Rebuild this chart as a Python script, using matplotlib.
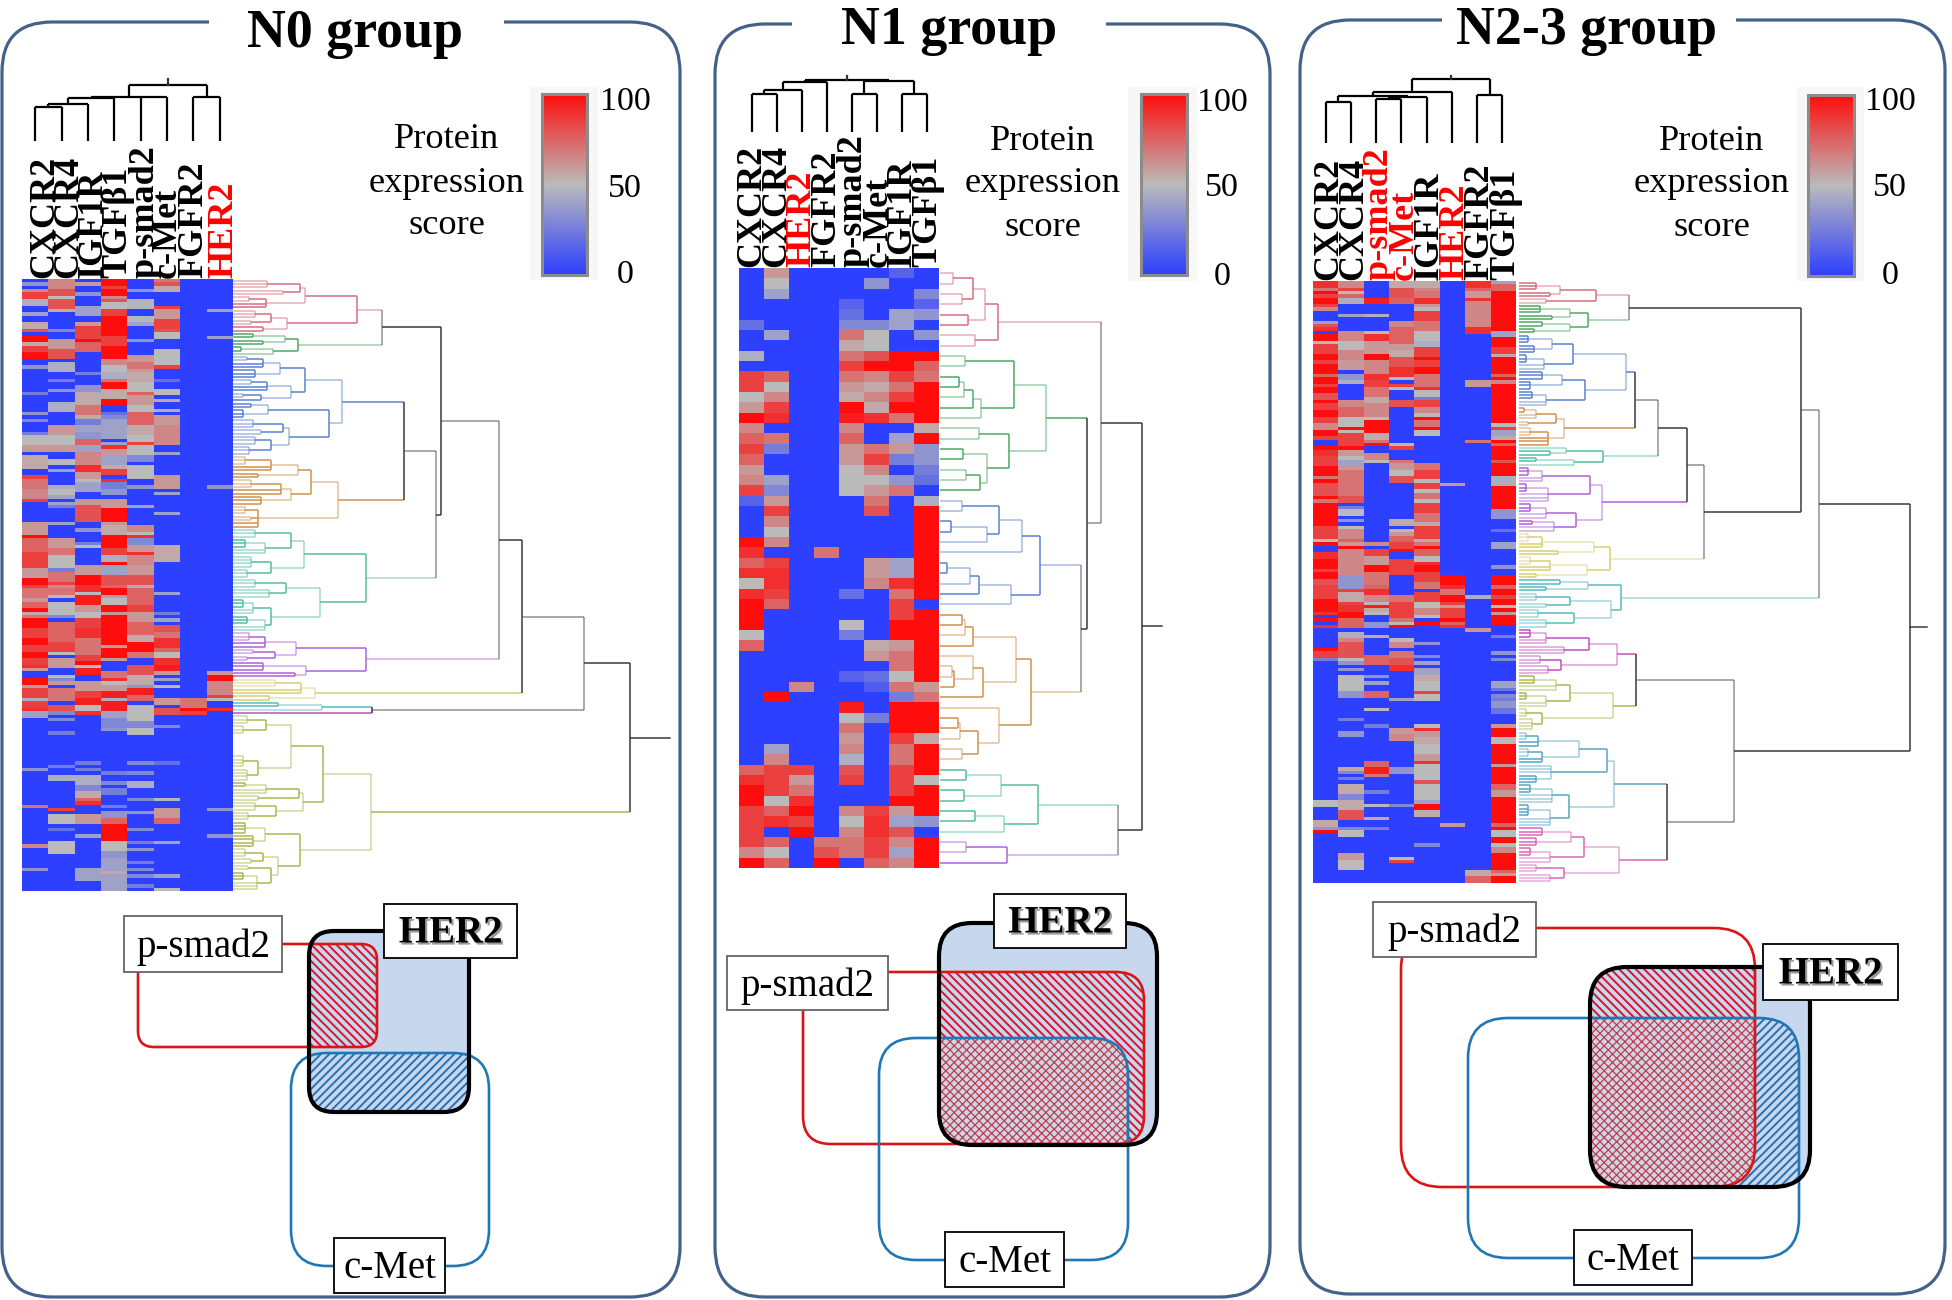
import numpy as np
import matplotlib
matplotlib.use('Agg')
import matplotlib.pyplot as plt
import matplotlib.patches as mpatches
import matplotlib.patheffects as pe
from itertools import count
from matplotlib.colors import LinearSegmentedColormap

W, H = 1952, 1300
plt.rcParams['font.family'] = ['Liberation Serif', 'DejaVu Serif']
plt.rcParams['hatch.linewidth'] = 1.4

# ---------- heatmap scores, (score, number of rows) read top to bottom ----------
N0_ROWS = 184
N0_LABELS = ['CXCR2', 'CXCR4', 'IGF1R', 'TGFβ1', 'p-smad2', 'c-Met', 'FGFR2', 'HER2']
N0_RED = ['HER2']
N0_CXCR2 = [(0,1),(35,1),(0,1),(65,1),(85,2),(45,2),(0,2),(40,1),(0,2),(55,2),(80,1),(0,1),(100,2),(55,1),(85,2),(100,2),(0,2),(35,1),(0,7),(25,1),(0,5),(35,1),(0,1),(30,1),(0,3),(25,1),(50,3),(60,2),(0,1),(55,4),(0,2),(85,1),(70,3),(65,3),(85,1),(0,6),(60,4),(100,1),(75,4),(85,5),(60,3),(100,2),
            (85,1),(70,3),(60,1),(75,2),(100,1),(55,1),(70,1),(100,3),(85,3),(100,2),(85,2),(100,2),(85,2),(90,1),(60,1),(0,2),(100,2),(60,1),(85,3),(45,1),(85,2),(90,1),(40,2),(0,15),(35,1),(0,10),(70,1),(0,11),(65,1),(0,6),(35,1),(0,6)]
N0_CXCR4 = [(65,3),(80,2),(50,1),(80,3),(55,1),(0,5),(30,1),(0,2),(60,3),(80,3),(0,1),(45,3),(0,2),(25,1),(0,2),(35,1),(0,3),(45,3),(0,4),(60,3),(50,3),(60,2),(0,2),(50,2),(0,1),(40,1),(0,4),(45,1),(50,2),(40,1),(0,1),(40,1),(25,1),(0,4),(40,1),(0,4),(60,3),(70,2),(50,4),(25,1),(70,3),(85,1),
            (65,1),(70,2),(50,1),(0,1),(50,4),(30,1),(0,1),(75,6),(85,3),(50,1),(0,1),(60,3),(0,2),(50,1),(30,1),(60,1),(0,1),(70,4),(0,1),(80,2),(30,1),(0,1),(30,1),(0,3),(25,1),(0,9),(25,1),(0,2),(45,2),(0,8),(85,1),(0,1),(50,3),(0,1),(20,1),(0,3),(50,4),(0,11)]
N0_IGF1R = [(0,1),(60,1),(0,2),(35,1),(0,3),(40,3),(0,2),(60,1),(85,4),(100,1),(75,3),(0,6),(25,1),(0,3),(35,2),(55,4),(70,3),(55,1),(25,2),(40,2),(35,2),(75,2),(40,2),(65,4),(90,2),(60,2),(50,1),(40,3),(0,2),(60,2),(80,5),(0,2),(35,1),(0,3),(25,1),(50,1),(0,5),(60,3),(100,3),
            (90,2),(50,1),(95,3),(60,2),(50,2),(85,3),(90,3),(70,5),(85,2),(100,1),(50,1),(95,2),(0,2),(60,3),(85,2),(95,2),(50,2),(90,1),(0,14),(25,1),(0,1),(25,1),(0,1),(45,3),(30,2),(55,2),(75,1),(90,1),(0,3),(60,3),(0,3),(40,1),(0,9),(40,4)]
N0_TGFB1 = [(100,2),(85,1),(100,2),(65,1),(80,1),(50,2),(85,2),(100,6),(85,3),(100,4),(65,2),(50,2),(45,2),(70,1),(100,2),(55,3),(100,2),(0,2),(20,1),(30,1),(40,6),(0,1),(40,1),(90,1),(60,2),(40,3),(55,1),(85,2),(0,1),(90,1),(25,2),(35,2),(0,1),(60,3),(100,4),(60,1),(55,3),(100,4),(85,2),(45,2),(100,1),(40,3),(80,3),
            (75,1),(100,2),(60,1),(50,2),(100,2),(60,1),(100,9),(60,1),(100,3),(60,1),(0,3),(70,2),(90,1),(50,1),(60,2),(95,2),(45,1),(95,3),(40,2),(30,3),(35,1),(0,12),(25,1),(0,2),(30,1),(0,1),(25,2),(0,3),(25,1),(0,1),(35,2),(75,2),(100,5),(50,3),(35,2),(40,4),(55,1),(40,5)]
N0_PSMAD2 = [(0,3),(35,1),(0,2),(48,3),(0,2),(48,2),(40,1),(0,4),(35,1),(0,4),(60,2),(70,2),(60,1),(55,3),(50,3),(75,1),(60,3),(50,2),(75,4),(55,3),(50,2),(85,1),(50,3),(30,2),(0,1),(50,4),(0,2),(35,1),(0,5),(40,1),(0,5),(65,2),(50,1),(90,1),(30,2),(60,2),(90,1),(65,3),(60,3),(80,3),
             (55,1),(75,5),(85,2),(60,3),(75,4),(55,2),(100,3),(70,2),(0,2),(80,3),(55,3),(35,1),(95,2),(75,2),(0,1),(50,5),(30,2),(50,2),(0,8),(30,1),(0,2),(30,1),(0,2),(45,2),(0,3),(30,1),(0,3),(35,1),(0,4),(30,1),(0,3),(25,1),(0,1),(35,1),(0,3),(25,1),(0,1),(30,1),(0,1),(30,1),(0,2),(25,1)]
N0_CMET = [(70,1),(80,1),(55,2),(0,4),(85,1),(60,3),(85,3),(80,1),(50,2),(0,3),(50,5),(85,1),(0,3),(20,1),(0,2),(50,2),(0,1),(55,1),(0,2),(45,1),(0,1),(60,3),(65,6),(0,2),(40,1),(0,6),(60,4),(0,1),(40,1),(0,5),(40,1),(0,9),(55,5),(0,7),
           (0,2),(40,1),(0,5),(25,1),(0,1),(40,1),(0,1),(80,2),(70,2),(90,3),(75,1),(50,2),(90,2),(95,2),(60,1),(0,1),(40,1),(0,1),(50,1),(0,3),(60,2),(0,1),(80,2),(0,3),(30,1),(0,10),(20,1),(0,10),(48,1),(0,2),(60,3),(75,2),(0,5),(40,1),(0,9),(40,1),(0,3),(50,1)]
N0_FGFR2 = [(0,92),(0,34),(70,3),(100,1),(85,1),(0,53)]
N0_HER2 = [(0,9),(40,1),(0,7),(40,1),(0,44),(35,1),(0,29),(0,26),(60,1),(100,2),(65,4),(85,1),(50,1),(0,2),(90,1),(0,29),(35,1),(0,7),(35,1),(0,16)]

N1_ROWS = 58
N1_LABELS = ['CXCR2', 'CXCR4', 'HER2', 'FGFR2', 'p-smad2', 'c-Met', 'IGF1R', 'TGFβ1']
N1_RED = ['HER2']
N1_CXCR2 = [0,0,0,0,0,20,0,0,45,0, 85,85,50,60,100,65,75,85,75,60, 65,85,15,0,0,0,100,90,75,90, 50,90,100,100,100,50,75,0,0,0, 0,0,0,0,0,0,0,0, 75,90,100,100,85,85,85,85,65,100]
N1_CXCR4 = [60,50,40,0,0,0,40,0,0,0, 75,50,65,85,90,0,70,25,0,0, 40,30,60,85,65,50,65,0,85,90, 90,85,75,0,0,0,0,0,0,0, 0,100,0,0,0,0,40,65,85,85, 85,50,75,90,0,75,50,75]
N1_HER2 = [0]*40 + [65] + [0]*7 + [85,60,70,90,100,85,100,0,0,0]
N1_FGFR2 = [0]*27 + [70] + [0]*27 + [70,80,100]
N1_PSMAD2 = [0,0,0,15,20,30,70,55,70,85, 70,60,55,100,95,65,75,60,60,50, 50,50,0,0,0,0,0,0,0,0, 0,20,0,0,50,25,0,0,0,15, 0,0,95,50,70,60,65,45,80,85, 0,0,65,50,65,70,70,0]
N1_CMET = [0,35,0,0,0,30,50,50,80,100, 65,55,65,55,90,0,0,70,85,65, 50,60,70,80,0,0,0,0,60,60, 65,0,0,0,0,0,55,60,0,20, 12,0,0,25,0,0,0,0,0,0, 0,0,85,90,90,85,85,75]
N1_IGF1R = [15,0,0,0,40,40,0,0,100,100, 85,70,85,100,70,0,40,60,25,0, 35,70,0,0,0,0,0,0,40,40, 90,70,85,85,100,100,60,70,70,50, 70,25,100,100,100,85,70,70,85,85, 85,100,60,40,80,65,40,65]
N1_TGFB1 = [0,0,30,15,35,0,35,0,100,75, 70,100,100,100,100,55,100,35,35,25, 20,0,45,100,100,100,100,100,100,100, 100,100,0,100,100,100,100,100,100,100, 60,70,100,100,100,55,100,100,100,50, 100,100,100,35,0,100,100,100]

N2_ROWS = 182
N2_LABELS = ['CXCR2', 'CXCR4', 'p-smad2', 'c-Met', 'IGF1R', 'HER2', 'FGFR2', 'TGFβ1']
N2_RED = ['p-smad2', 'c-Met', 'HER2']
N2_CXCR2 = [(90,2),(70,1),(100,1),(85,1),(100,2),(85,1),(65,1),(0,3),(40,1),(80,1),(90,1),(0,1),(100,2),(50,1),(85,3),(100,2),(85,1),(100,3),(75,1),(100,2),(85,1),(100,2),(80,2),(100,1),(85,2),(100,2),(85,2),(65,2),(100,2),(85,1),(0,2),(100,1),(90,2),(85,3),(100,3),(70,1),(100,1),(80,4),(100,1),(70,1),(100,7),(85,4),(50,1),(100,1),(0,2),(90,2),(100,3),(85,1),(100,2),(80,2),
            (85,4),(100,4),(90,1),(0,1),(100,1),(0,1),(90,1),(0,6),(100,1),(85,2),(25,1),(0,42),(50,2),(0,4),(55,2),(35,1),(100,1),(0,15)]
N2_CXCR4 = [(65,2),(85,1),(50,1),(75,1),(45,1),(55,1),(0,3),(40,1),(0,4),(65,3),(50,3),(65,3),(60,3),(0,1),(35,2),(45,1),(0,5),(65,2),(75,3),(50,3),(100,1),(50,1),(85,4),(100,1),(60,2),(50,1),(40,2),(60,1),(70,8),(80,2),(0,1),(25,1),(50,2),(0,1),(35,1),(0,1),(50,1),(65,3),(75,1),(60,1),(100,1),(65,8),(35,3),
            (35,1),(85,1),(55,3),(85,1),(90,2),(100,2),(75,3),(0,1),(45,2),(65,1),(80,5),(50,1),(35,1),(0,1),(35,1),(0,1),(50,5),(35,2),(0,6),(25,1),(0,3),(35,2),(0,9),(55,1),(30,1),(0,1),(25,1),(0,1),(55,3),(30,2),(55,3),(80,3),(0,2),(30,1),(50,2),(0,5),(60,2),(50,3),(0,5)]
N2_PSMAD2 = [(0,5),(95,2),(0,3),(45,1),(0,4),(50,1),(90,2),(60,4),(100,2),(65,4),(90,2),(85,2),(70,3),(55,2),(65,4),(50,1),(100,4),(55,2),(70,1),(100,1),(0,2),(65,2),(50,1),(0,24),(65,1),(0,1),(85,2),(60,3),(100,2),(70,4),
             (75,1),(90,2),(65,2),(50,1),(95,1),(55,1),(50,1),(0,2),(35,2),(0,2),(55,1),(0,5),(75,3),(0,3),(35,1),(0,1),(40,1),(0,2),(75,2),(0,3),(50,1),(0,4),(25,1),(0,10),(75,2),(95,2),(70,1),(0,4),(25,1),(0,3),(50,1),(0,3),(55,1),(0,2),(25,1),(0,16)]
N2_CMET = [(55,2),(80,3),(75,2),(0,5),(65,2),(75,5),(60,2),(55,2),(80,3),(90,3),(50,1),(0,1),(85,1),(50,1),(0,3),(80,2),(0,11),(50,1),(85,1),(0,3),(70,1),(60,2),(50,2),(80,2),(0,11),(55,2),(0,1),(50,1),(60,1),(75,2),(85,2),(100,1),(0,2),(85,5),(0,3),
           (0,3),(70,2),(85,5),(70,1),(50,1),(100,1),(0,3),(50,1),(65,2),(0,1),(70,2),(80,2),(90,2),(0,8),(40,1),(0,8),(60,2),(65,2),(0,8),(35,2),(0,9),(30,1),(0,15),(50,1),(85,1),(0,6)]
N2_IGF1R = [(55,2),(65,1),(70,2),(90,2),(60,1),(50,1),(85,3),(70,3),(50,3),(45,2),(85,3),(100,1),(85,2),(100,2),(70,4),(90,1),(50,2),(25,1),(85,2),(65,2),(50,1),(100,1),(70,2),(100,1),(50,2),(0,8),(70,2),(85,3),(50,1),(85,2),(50,1),(70,2),(50,1),(85,3),(70,3),(55,1),(85,4),(55,1),(70,1),(100,1),(75,2),(50,2),(90,1),(100,2),(85,3),
            (70,2),(0,1),(85,3),(50,2),(65,2),(50,1),(0,1),(100,1),(0,5),(35,1),(0,3),(30,1),(0,1),(40,1),(0,1),(40,2),(55,2),(50,3),(85,1),(50,2),(0,7),(50,1),(90,1),(60,2),(55,2),(50,3),(60,2),(90,1),(50,5),(80,1),(50,5),(40,1),(100,2),(55,2),(0,8),(30,1),(0,10)]
N2_HER2 = [(0,61),(60,1),(0,27),(100,3),(90,1),(70,2),(100,2),(85,1),(60,1),(85,3),(100,1),(75,1),(90,1),(0,59),(60,1),(0,17)]
N2_FGFR2 = [(90,2),(75,1),(60,2),(90,1),(65,8),(90,2),(0,14),(60,2),(0,16),(70,1),(0,43),(0,3),(45,1),(0,9),(60,1),(0,72),(55,2),(75,2)]
N2_TGFB1 = [(40,1),(75,2),(100,12),(40,2),(100,3),(85,2),(55,1),(100,5),(75,1),(100,1),(65,1),(100,12),(50,1),(85,1),(40,2),(55,1),(100,1),(75,1),(100,4),(80,1),(100,4),(45,3),(100,7),(35,3),(0,3),(20,1),(0,3),(40,2),(0,5),(35,1),(0,2),(100,3),
            (75,1),(100,2),(85,1),(100,2),(50,1),(100,1),(60,1),(100,3),(0,3),(25,1),(0,4),(35,1),(0,1),(30,1),(0,6),(40,2),(22,1),(0,1),(30,1),(25,1),(35,2),(22,2),(0,3),(60,1),(100,3),(50,2),(100,6),(60,1),(100,5),(75,2),(60,2),(100,8),(75,1),(100,1),(50,2),(100,2),(50,1),(65,2),(100,5),(75,1),(60,1),(100,2)]

# ---------- dendrograms: (height, child, ...), an int child is that many leaves, a negative int skips rows ----------
N0_TREES = {
    'pink': (124, (72, (67, (34, 3), (50, 2)), (33, (16, 2), 2)), (54, (38, (22, 3), (18, 2)), (30, 2))),
    'green': (65, (52, (20, 2), (30, 2)), (40, (8, 2), 1)),
    'blue': (109, (72, (47, (30, (14, 2), 2), (22, 3)), (58, (34, (18, 2), 2), (28, (10, 2), 1))),
             (96, (35, (18, 2), (10, 3)), (56, (50, (20, 3), (28, 2)), (38, (22, 3), (16, 3))))),
    'orange': (105, (78, (65, (38, (12, 3), 2), (25, 2)), (58, (48, (18, 3), 2), (28, 3))), (25, (12, 3), (18, 2), 2)),
    'teal': (133, (71, (58, (22, 3), (32, (12, 3), 2)), (38, (18, 4), (14, 3))),
             (87, (53, (22, 3), (36, 3)), (38, (20, (10, 3), 2), (32, (14, 3), 2)))),
    'purple': (133, (63, (32, (16, 3), 2), (42, (20, 2), (14, 2))), (73, (30, 3), (62, 2))),
    'yellow': (82, (68, (42, 3), 2), (36, 2)),
    'cyan': (89, (45, 2), 1),
    'magenta': 1,
    'olive': (138, (90, (58, (33, (14, 3), (10, 3)), -6, (25, (10, 4), (14, 4))),
                    (70, (66, (33, (12, 2), 2), (25, 2)), (43, (22, 3), (15, 3)))),
              (67, (32, (12, 4), (20, 4)), (45, (30, (12, 3), (18, 2)), (38, (15, 2), (24, (10, 3), 3))))),
}
N0_TOP = (397, (351, (289, (266, (208, (149, 'pink', 'green'), (203, (171, 'blue', 'orange'), 'teal')), 'purple'), 'yellow'),
                (139, 'cyan', 'magenta')), 'olive')
N0_STEM = 437
N0_COL_TREE = (56, (44, (43, (37, (34, 1, 1), 1), 1), 1, 1), (44, 1, 1))
N0_COL_STEM = 62

N1_TREES = {
    'pink': (58, (45, (33, (13, 1, 1), (22, 1, 1)), (28, 1, 1)), (35, 1, 1)),
    'green': (106, (74, (25, 1, 1), (41, (33, (24, (19, 1, 1), 1), 1), 1)),
              (69, (39, 1, 1), (47, (23, 1, 1), (40, (26, 1, 1), 1)))),
    'blue': (100, (82, (59, (22, 1, 1), (47, (11, 1, 1), 1)), 1), (71, (39, (30, (7, 1, 1), 1), 1), 1)),
    'orange': (91, (76, (33, (25, (22, 1, 1), 1), 1), (43, (33, 1, (14, (12, 1, 1), 1)), 1)),
                (59, 1, (38, (20, (18, 1, 1), 1), (22, 1, 1)))),
    'teal': (98, (61, (26, 1, 1), (24, 1, 1)), (64, (35, 1, 1), 1)),
    'purple': (67, (26, 1, 1), 1),
}
N1_TOP = (202, (161, 'pink', (147, 'green', (141, 'blue', 'orange'))), (178, 'teal', 'purple'))
N1_STEM = 222
N1_COL_TREE = (52, (50, (42, (38, 1, 1), 1), 1), (51, (38, 1, 1), (38, 1, 1)))
N1_COL_STEM = 56

N2_TREES = {
    'pink': (80, (44, (20, 3), (34, 2)), (30, 2)),
    'green': (72, (54, (24, 3), (36, 2)), (54, (26, 2), (18, 2))),
    'blue': (110, (57, (36, (12, 3), (18, 3)), (28, (10, 3), 2)), (69, (46, (26, 3), (14, 3)), (30, (16, 3), 2))),
    'orange': (48, (40, (20, (8, 2), 2), (12, 2)), (32, (14, 3), 3)),
    'teal': (87, (50, 1, (34, 2)), (58, (20, 2), 1)),
    'purple': (86, (74, (26, (12, 3), 2), (32, (10, 3), 3)), (60, (30, (14, 3), 2), (38, (16, 2), 2))),
    'yellow': (94, (78, (26, (12, 3), 2), (42, 2)), (71, (34, (14, 3), 2), (20, 2))),
    'cyan': (105, (72, (44, 2), (30, 2)), (95, (54, (20, 3), (30, 2)), (58, (22, 3), (30, 3)))),
    'magenta': (101, (73, (30, (14, 3), 2), (48, 3)), (45, (24, 3), (32, 3))),
    'olive': (97, (54, (40, (18, 3), 2), (30, (10, 3), 2)), (26, (10, 3), (16, 4))),
    'sky': (98, (91, (63, (22, (10, 3), 2), (26, (12, 3), 2)), (35, 3, (20, 3))), (53, (36, (14, 3), 3), (34, (12, 4), 3))),
    'orchid': (103, (68, (55, (26, 3), (20, 3)), (34, (14, 3), 2)), (48, (20, 3), (34, 3))),
}
N2_TOP = (394, (303, (285, (113, 'pink', 'green'),
                      (188, (171, (142, (119, 'blue', 'orange'), 'teal'), 'purple'), 'yellow')), 'cyan'),
          (218, (120, 'magenta', 'olive'), (151, 'sky', 'orchid')))
N2_STEM = 411
N2_COL_TREE = (64, (51, (47, (41, 1, 1), (46, (44, 1, 1), 1)), 1), (48, 1, 1))
N2_COL_STEM = 67

# ---------- colours ----------
CMAP = LinearSegmentedColormap.from_list('score', ['#2d3fff', '#bbbbbb', '#ff0d0d'])
CLUSTER_COLORS = {
    'pink': '#d4707f', 'green': '#4fa866', 'blue': '#5b83cf', 'orange': '#d0914f', 'teal': '#55bfa0',
    'purple': '#ad62d8', 'yellow': '#d9cf72', 'cyan': '#55bcc0', 'magenta': '#c04fc0', 'olive': '#aeb650',
    'sky': '#58a6c6', 'orchid': '#d868be',
}
FRAME_COLOR = '#44618c'
VENN_FILL = '#c6d7ee'
RED = '#dc1414'
BLUE = '#1f78b4'

fig = plt.figure(figsize=(W / 100, H / 100), dpi=100)
canvas = fig.add_axes([0, 0, 1, 1], zorder=0)
canvas.set_xlim(0, W)
canvas.set_ylim(H, 0)
canvas.axis('off')


def px_axes(x0, y0, x1, y1):
    ax = fig.add_axes([x0 / W, 1 - y1 / H, (x1 - x0) / W, (y1 - y0) / H], zorder=2)
    ax.patch.set_alpha(0)
    return ax


def expand(pairs, total):
    col = np.repeat([p[0] for p in pairs], [p[1] for p in pairs])
    return np.pad(col, (0, max(0, total - len(col))))[:total]


def draw_heat(box, columns, labels, red, nudge):
    ax = px_axes(*box)
    ax.imshow(np.column_stack(columns), cmap=CMAP, vmin=0, vmax=100, aspect='auto', interpolation='nearest')
    ax.set_yticks([])
    ax.xaxis.tick_top()
    col_w = (box[2] - box[0]) / len(labels)
    ax.set_xticks([k + n / col_w for k, n in enumerate(nudge)])
    ax.set_xticklabels(labels, rotation=90, fontsize=26, fontweight='bold')
    ax.tick_params(axis='x', length=0, pad=1)
    for tick, name in zip(ax.get_xticklabels(), labels):
        tick.set_color('#ff0000' if name in red else 'black')
    for s in ax.spines.values():
        s.set_visible(False)


def draw_node(ax, node, spots, trees, color, swap, lw, start, depth=0):
    height = node[0]
    ys = []

    def seg(h0, h1, p0, p1, c, alpha):
        xs, ys_ = ([p0, p1], [h0, h1]) if swap else ([h0, h1], [p0, p1])
        ax.plot(xs, ys_, color=c, lw=lw, alpha=alpha, solid_capstyle='butt', clip_on=False)

    for child in node[1:]:
        child_color = color
        if isinstance(child, str):
            child_color = CLUSTER_COLORS[child]
            child = trees[child]
        alpha = 1.0 if depth % 2 == 0 or color == child_color and swap else 0.55
        if isinstance(child, int):
            if child < 0:
                for _ in range(-child):
                    next(spots)
                continue
            for _ in range(child):
                y = next(spots)
                seg(start, height, y, y, child_color, alpha)
                ys.append(y)
        else:
            y, h = draw_node(ax, child, spots, trees, child_color, swap, lw, start, depth + 1)
            seg(h, height, y, y, child_color, alpha)
            ys.append(y)
    seg(height, height, ys[0], ys[-1], color, 1.0 if depth % 2 == 0 or swap else 0.55)
    return (ys[0] + ys[-1]) / 2, height


def row_dendrogram(box, top, trees, rows, stem, start=0):
    ax = px_axes(*box)
    ax.set_xlim(0, box[2] - box[0])
    ax.set_ylim(rows, 0)
    ax.axis('off')
    y, h = draw_node(ax, top, (k + 0.5 for k in count()), trees, '#3a3a3a', False, 1.1, start)
    ax.plot([h, stem], [y, y], color='#3a3a3a', lw=1.1, clip_on=False)


def col_dendrogram(box, top, stem, cols=8):
    ax = px_axes(*box)
    ax.set_xlim(0, cols)
    ax.set_ylim(0, box[3] - box[1])
    ax.axis('off')
    x, h = draw_node(ax, top, (k + 0.5 for k in count()), {}, 'black', True, 1.6, 0)
    ax.plot([x, x], [h, stem], color='#333333', lw=1.6, clip_on=False)


def draw_colorbar(bg, bar, label_x, label_ys, text_x, text_ys):
    canvas.add_patch(mpatches.Rectangle((bg[0], bg[1]), bg[2] - bg[0], bg[3] - bg[1], fc='#f7f7f7', ec='none'))
    ax = px_axes(*bar)
    ax.imshow(np.linspace(100, 0, 256)[:, None], cmap=CMAP, vmin=0, vmax=100, aspect='auto')
    ax.set_xticks([])
    ax.set_yticks([])
    for s in ax.spines.values():
        s.set_color('#8c8c8c')
        s.set_linewidth(2.2)
    for val, y in zip(['100', '50', '0'], label_ys):
        canvas.text(label_x, y + 3, val, fontsize=24.5, ha='center', va='center')
    for line, y in zip(['Protein', 'expression', 'score'], text_ys):
        canvas.text(text_x, y + 3, line, fontsize=26.2, ha='center', va='center')


def rounded(x0, y0, x1, y1, r):
    return mpatches.FancyBboxPatch((x0 + r, y0 + r), x1 - x0 - 2 * r, y1 - y0 - 2 * r,
                                   boxstyle='round,pad=%s,rounding_size=%s' % (r, r), mutation_aspect=1)


def polygon_of(patch):
    return patch.get_path().to_polygons(closed_only=True)[0][:-1]


def clip_polygon(subject, clip):
    # both shapes are convex, Sutherland-Hodgman is enough
    clip = np.asarray(clip)
    x, y = clip[:, 0], clip[:, 1]
    sign = np.sign(np.sum(x * np.roll(y, -1) - np.roll(x, -1) * y))
    out = list(map(tuple, subject))
    for a, b in zip(clip, np.roll(clip, -1, axis=0)):
        if not out:
            break

        def inside(p):
            return sign * ((b[0] - a[0]) * (p[1] - a[1]) - (b[1] - a[1]) * (p[0] - a[0])) >= 0

        new = []
        for p, q in zip(out, out[1:] + out[:1]):
            if inside(p) != inside(q):
                dx, dy = q[0] - p[0], q[1] - p[1]
                ex, ey = b[0] - a[0], b[1] - a[1]
                den = ex * dy - ey * dx
                if den != 0:
                    t = (ey * (p[0] - a[0]) - ex * (p[1] - a[1])) / den
                    new.append((p[0] + t * dx, p[1] + t * dy))
            if inside(q):
                new.append(q)
        out = new
    return out


def hatch_region(points, hatch, color, fill='none', z=3):
    if len(points) >= 3:
        canvas.add_patch(mpatches.Polygon(points, closed=True, fc=fill, ec=color, hatch=hatch, lw=0, zorder=z))


def label_box(box, text, edge='black', bold=False):
    x0, y0, x1, y1 = box
    canvas.add_patch(mpatches.Rectangle((x0, y0), x1 - x0, y1 - y0, fc='white', ec=edge, lw=1.3, zorder=6))
    t = canvas.text((x0 + x1) / 2, (y0 + y1) / 2 + (2 if bold else 3), text, fontsize=28, ha='center', va='center',
                    zorder=7, fontweight='bold' if bold else 'normal')
    if bold:
        t.set_path_effects([pe.withSimplePatchShadow(offset=(1.5, -1.5), shadow_rgbFace='#555555', alpha=0.6)])


def draw_venn(her, smad, met, her_box, smad_box, met_box):
    her_p, smad_p, met_p = rounded(*her), rounded(*smad), rounded(*met)
    canvas.add_patch(rounded(*her))
    canvas.patches[-1].set(fc=VENN_FILL, ec='none', zorder=2)
    her_poly, smad_poly, met_poly = polygon_of(her_p), polygon_of(smad_p), polygon_of(met_p)
    her_smad = clip_polygon(her_poly, smad_poly)
    her_met = clip_polygon(her_poly, met_poly)
    triple = clip_polygon(her_smad, met_poly) if her_smad else []
    hatch_region(her_met, '////', '#2a70b0')
    hatch_region(her_smad, '\\\\\\\\', '#d9142c')
    plt.rcParams['hatch.linewidth'] = 0.9
    hatch_region(triple, None, VENN_FILL, fill='#d2d4e6', z=4)
    hatch_region(triple, 'xxxx', '#b8404f', z=4)
    plt.rcParams['hatch.linewidth'] = 1.4
    for spec, color, lw in [(smad, RED, 1.9), (met, BLUE, 1.9), (her, 'black', 3.0)]:
        p = rounded(*spec)
        p.set(fc='none', ec=color, lw=lw, zorder=5)
        canvas.add_patch(p)
    label_box(smad_box, 'p-smad2', edge='#666666')
    label_box(her_box, 'HER2', bold=True)
    label_box(met_box, 'c-Met')


def draw_frame(x0, y0, x1, y1, gap, title, title_xy):
    p = rounded(x0, y0, x1, y1, 50)
    p.set(fc='none', ec=FRAME_COLOR, lw=2.3, zorder=1)
    canvas.add_patch(p)
    canvas.add_patch(mpatches.Rectangle((gap[0], y0 - 6), gap[1] - gap[0], 12, fc='white', ec='none', zorder=1.5))
    canvas.text(title_xy[0], title_xy[1], title, fontsize=38.8, fontweight='bold', ha='center', va='center')


# ---------- N0 ----------
draw_frame(2, 22, 680, 1297, (209, 504), 'N0 group', (355, 34))
draw_heat((22, 279, 233, 891),
          [expand(c, N0_ROWS) for c in (N0_CXCR2, N0_CXCR4, N0_IGF1R, N0_TGFB1, N0_PSMAD2, N0_CMET, N0_FGFR2, N0_HER2)],
          N0_LABELS, N0_RED, (10, 7, 5, 4, 4, 0, 0, 4))
row_dendrogram((233, 279, 680, 891), N0_TOP, N0_TREES, N0_ROWS, N0_STEM)
col_dendrogram((22, 79, 233, 141), N0_COL_TREE, N0_COL_STEM)
draw_colorbar((530, 87, 598, 280), (542, 94, 587, 275), 625, (99, 186, 272), 447, (136, 180, 223))
draw_venn((309, 931, 469, 1112, 25), (138, 944, 377, 1047, 16), (291, 1053, 489, 1266, 36),
          (384, 904, 517, 958), (124, 916, 282, 972), (334, 1238, 445, 1293))

# ---------- N1 ----------
draw_frame(715, 24, 1270, 1297, (792, 1106), 'N1 group', (949, 31))
draw_heat((739, 268, 939, 868),
          [N1_CXCR2, N1_CXCR4, N1_HER2, N1_FGFR2, N1_PSMAD2, N1_CMET, N1_IGF1R, N1_TGFB1], N1_LABELS, N1_RED,
          (0, 0, 0, 0, 2, 2, 1, 1))
row_dendrogram((940, 268, 1200, 868), N1_TOP, N1_TREES, N1_ROWS, N1_STEM)
col_dendrogram((739, 76, 939, 132), N1_COL_TREE, N1_COL_STEM)
draw_colorbar((1128, 87, 1197, 281), (1141, 94, 1187, 275), 1222, (100, 185, 274), 1043, (138, 181, 225))
draw_venn((939, 923, 1157, 1145, 33), (803, 972, 1144, 1144, 28), (879, 1038, 1128, 1260, 37),
          (994, 894, 1126, 948), (727, 956, 888, 1010), (945, 1232, 1064, 1287))

# ---------- N2-3 ----------
draw_frame(1300, 20, 1945, 1294, (1442, 1736), 'N2-3 group', (1587, 31))
draw_heat((1313, 281, 1515, 883),
          [expand(c, N2_ROWS) for c in (N2_CXCR2, N2_CXCR4, N2_PSMAD2, N2_CMET, N2_IGF1R, N2_HER2, N2_FGFR2, N2_TGFB1)],
          N2_LABELS, N2_RED, (3, 3, 3, 3, 3, 3, 3, 3))
row_dendrogram((1516, 281, 1940, 883), N2_TOP, N2_TREES, N2_ROWS, N2_STEM, start=3)
col_dendrogram((1313, 76, 1515, 143), N2_COL_TREE, N2_COL_STEM)
draw_colorbar((1797, 87, 1864, 281), (1808, 95, 1854, 276), 1890, (99, 185, 273), 1712, (138, 181, 224))
draw_venn((1590, 967, 1810, 1187, 37), (1401, 928, 1755, 1187, 41), (1468, 1018, 1799, 1258, 40),
          (1763, 944, 1898, 1000), (1373, 902, 1536, 957), (1574, 1230, 1692, 1285))

plt.savefig('out.png', dpi=100)
